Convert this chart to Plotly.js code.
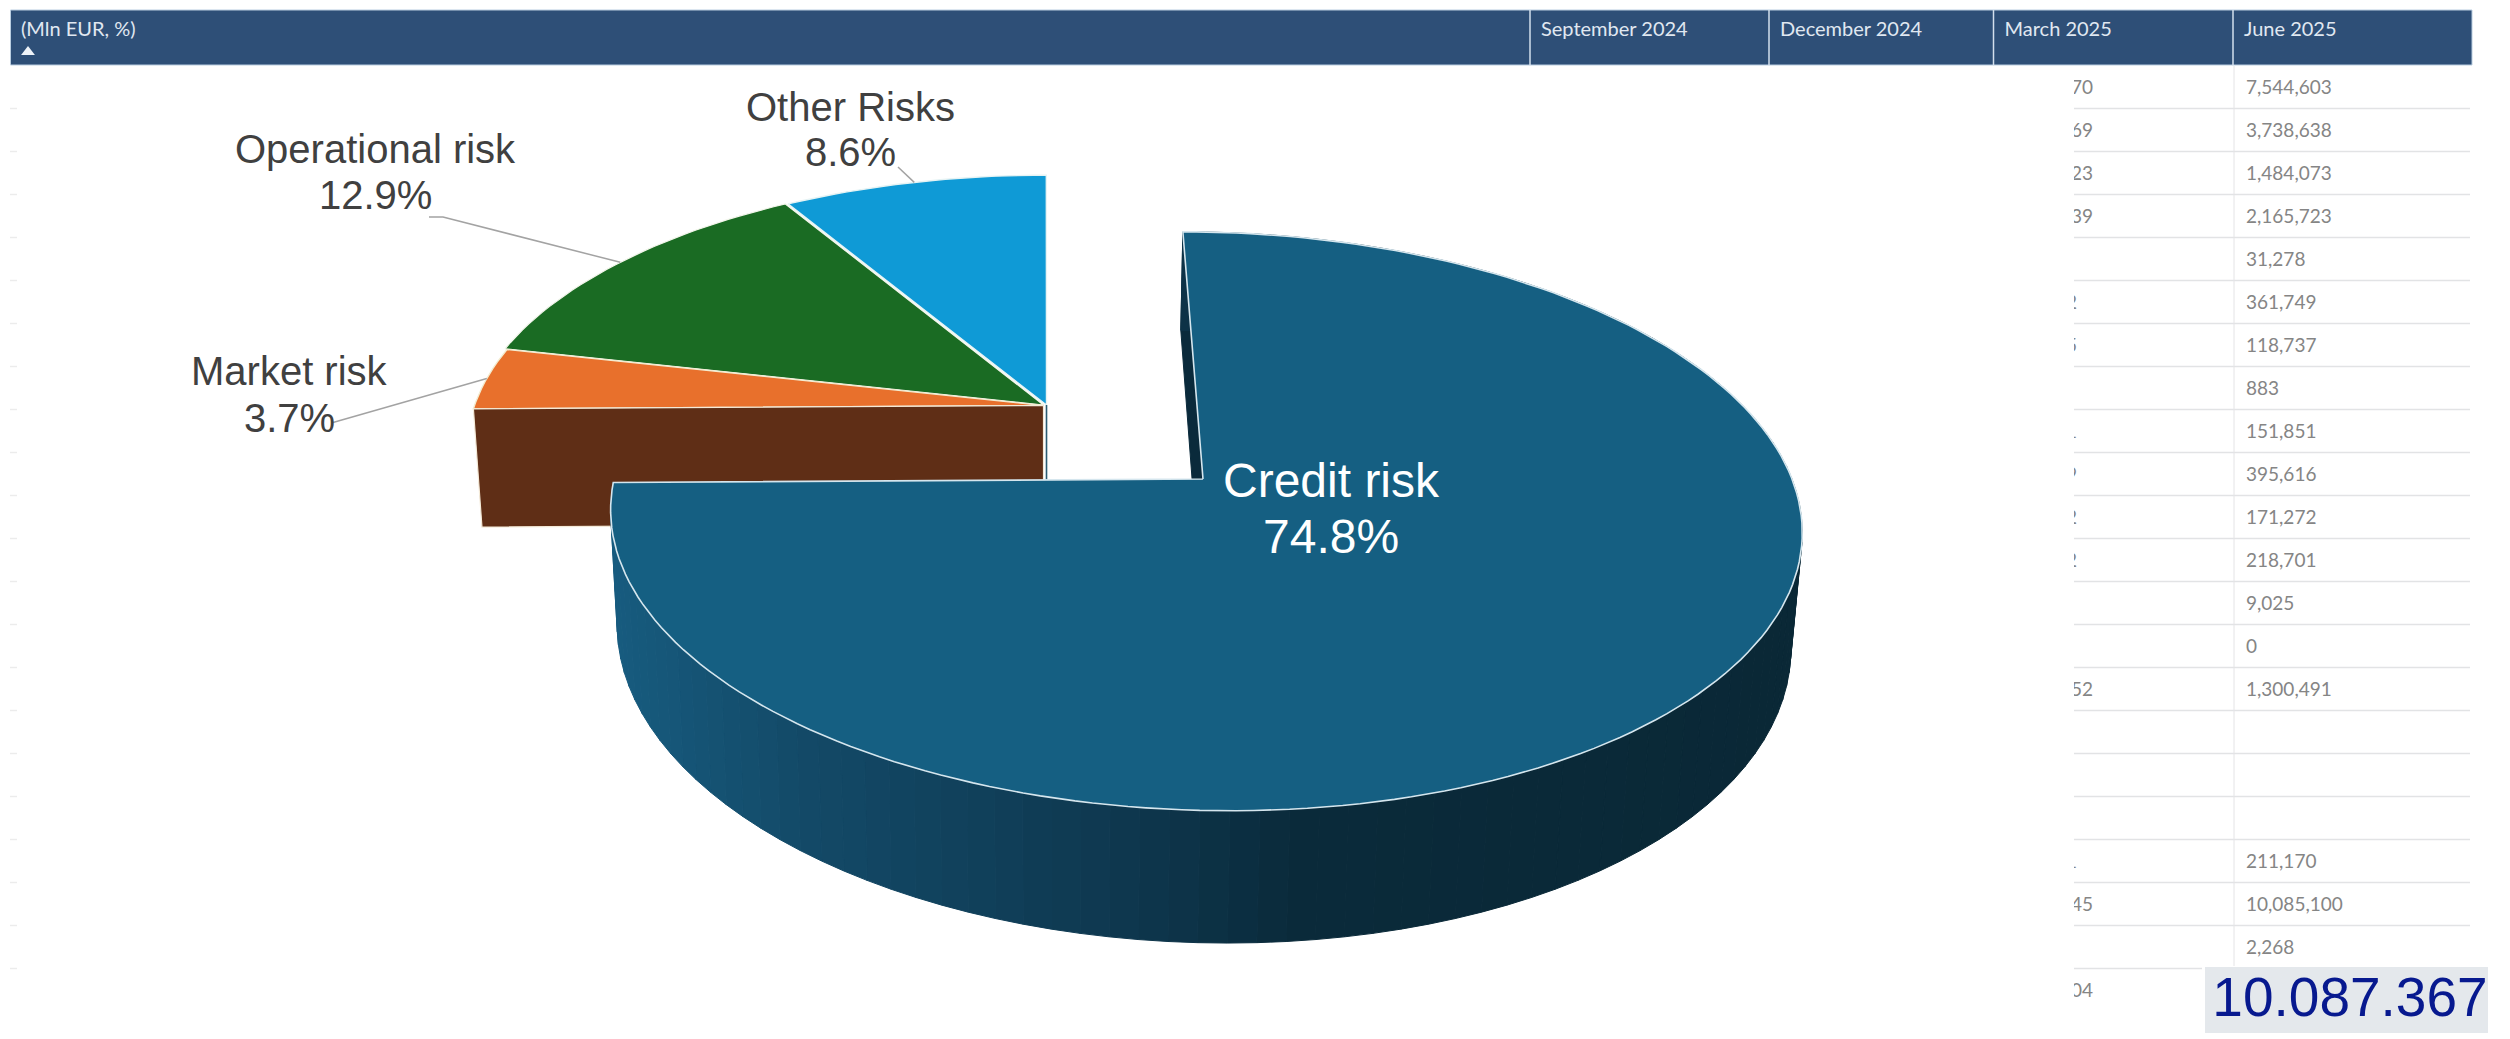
<!DOCTYPE html>
<html>
<head>
<meta charset="utf-8">
<script src="https://cdn.plot.ly/plotly-3.0.1.min.js"></script>
<style>html,body{margin:0;padding:0;background:#fff}#chart{width:2510px;height:1039px}</style>
</head>
<body>
<div id="chart"></div>
<script>
// Risk breakdown, in percent of the total, clockwise from 12 o'clock
const categories = ['Credit risk', 'Market risk', 'Operational risk', 'Other Risks'];
const shares = [74.8, 3.7, 12.9, 8.6];

// Table behind the pie
const unitLabel = '(Mln EUR, %)';
const months = ['September 2024', 'December 2024', 'March 2025', 'June 2025'];
const june2025 = ['7,544,603', '3,738,638', '1,484,073', '2,165,723', '31,278', '361,749', '118,737', '883',
  '151,851', '395,616', '171,272', '218,701', '9,025', '0', '1,300,491', '', '', '', '211,170', '10,085,100', '2,268', ''];
const march2025Tail = ['70', '69', '23', '39', '', '2', '5', '', '1', '9', '2', '2', '', '', '52', '', '', '', '1', '45', '', '04'];
const totalLabel = '10.087.367';

// Styling
const sliceColors = ['#155f82', '#e8702c', '#1a6b23', '#0f9ad6'];
const marketCutColor = '#5f2e16';
const wallStops = [[610, [23, 92, 128]], [800, [19, 74, 104]], [1130, [14, 55, 78]], [1300, [10, 42, 58]], [1800, [10, 40, 54]]];
const labelFont = 'Liberation Sans, Arial, sans-serif';
const tableFont = 'Lato, Open Sans, sans-serif';

// Camera poses for the tilted disc: pivot, radius, tilt, foreshortening, extrusion
const backPose = {vx: 1045, ax: 0, cy: 405, R: 571, a: 0.467, q: 0.16, D: 118};
const poses = [
  {vx: 1045, ax: 158, cy: 479, R: 589, a: 0.481, q: 0.146, D: 113},
  {...backPose, ax: -1.5, cy: 405.5, R: 569},
  {...backPose, ax: -1.5},
  {...backPose, ax: 1.5}
];

function project(p, deg, r, z) {
  const t = deg * Math.PI / 180, c = Math.cos(t), s = Math.sin(t);
  const k = 1 / (1 + p.q * r * c), g = 1 - 0.015 * z;
  return [p.vx + (p.ax + p.R * r * s) * k * g, p.cy - p.a * p.R * r * c * k + z * p.D * k];
}

function polygon(points, fill, lineColor, lineWidth) {
  const xs = points.map(q => q[0]), ys = points.map(q => q[1]);
  xs.push(xs[0]); ys.push(ys[0]);
  return {x: xs, y: ys, type: 'scatter', mode: 'lines', fill: 'toself', fillcolor: fill,
    line: {color: lineColor || fill, width: lineWidth === undefined ? 1 : lineWidth}, hoverinfo: 'skip', showlegend: false};
}
function polyline(points, color, width) {
  return {x: points.map(q => q && q[0]), y: points.map(q => q && q[1]), type: 'scatter', mode: 'lines',
    line: {color: color, width: width}, connectgaps: false, hoverinfo: 'skip', showlegend: false};
}
function textColumn(x, ys, texts, position, color, size, family) {
  return {x: ys.map(() => x), y: ys, text: texts, type: 'scatter', mode: 'text', textposition: position,
    textfont: {color: color, size: size, family: family}, cliponaxis: false, hoverinfo: 'skip', showlegend: false};
}
function wallColor(x) {
  let i = 0;
  while (i < wallStops.length - 2 && x > wallStops[i + 1][0]) i++;
  const [x0, c0] = wallStops[i], [x1, c1] = wallStops[i + 1];
  const f = Math.min(1, Math.max(0, (x - x0) / (x1 - x0)));
  return 'rgb(' + c0.map((v, j) => Math.round(v + (c1[j] - v) * f)).join(',') + ')';
}

// Slice extents in degrees, taken from the shares
const spans = [];
let running = 0;
shares.forEach(v => { const from = running * 3.6; running += v; spans.push([from, running * 3.6]); });
function rim(p, from, to, z) {
  const pts = [], n = Math.max(2, Math.ceil((to - from) / 1.5));
  for (let i = 0; i <= n; i++) pts.push(project(p, from + (to - from) * i / n, 1, z));
  return pts;
}
function wedge(i) {
  const p = poses[i];
  return [project(p, 0, 0, 0)].concat(rim(p, spans[i][0], spans[i][1], 0));
}

const traces = [];

// Table header band
const header = {x0: 10.5, x1: 2472, y0: 10, y1: 65};
traces.push(polygon([[header.x0, header.y0], [header.x1, header.y0], [header.x1, header.y1], [header.x0, header.y1]], '#2e4f77', '#b9cde0', 1));
const columnEdges = [1530, 1769, 1993.5, 2233];
columnEdges.forEach(x => traces.push(polyline([[x, header.y0], [x, header.y1]], '#d3dfec', 1.5)));
traces.push(textColumn(21, [31], [unitLabel], 'middle right', '#e0e8f1', 20, tableFont));
traces.push({x: [28], y: [52], type: 'scatter', mode: 'markers', cliponaxis: false,
  marker: {symbol: 'triangle-up', size: 12, color: '#eef3f8'}, hoverinfo: 'skip', showlegend: false});
months.forEach((m, i) => traces.push(textColumn(columnEdges[i] + 11, [31], [m], 'middle right', '#e0e8f1', 20, tableFont)));

// Table rows
const rowY = june2025.map((_, i) => 89 + i * 43.0);
const ruleY = june2025.slice(0, -1).map((_, i) => 108.5 + i * 43.0);
const rules = [], leftTicks = [];
ruleY.forEach((y, i) => {
  rules.push([2074, y], [i === ruleY.length - 1 ? 2202 : 2470, y], null);
  leftTicks.push([10, y], [17, y], null);
});
traces.push(polyline(rules, '#e2e3e5', 1.6));
traces.push(polyline(leftTicks, '#ececec', 1.5));
traces.push(polyline([[2234, 66], [2234, 966]], '#e4e4e6', 1));
traces.push(textColumn(2246, rowY, june2025, 'middle right', '#858585', 19, tableFont));
const tailEnd = march2025Tail.map(t => t.length > 1 ? 2093 : 2077);
traces.push({x: tailEnd, y: rowY, text: march2025Tail, type: 'scatter', mode: 'text', textposition: 'middle left',
  textfont: {color: '#858585', size: 19, family: tableFont}, cliponaxis: false, hoverinfo: 'skip', showlegend: false});
// Blank panel that hides the left part of the March column
traces.push(polygon([[1995, 66], [2074, 66], [2074, 1036], [1995, 1036]], '#ffffff', '#ffffff', 0));

// Total box
traces.push(polygon([[2205, 967], [2488, 967], [2488, 1033], [2205, 1033]], '#e4e8ec', '#e4e8ec', 0));
traces.push(textColumn(2350, [1002], [totalLabel], 'middle center', '#07198f', 55, labelFont));

// Rear slices and the cut face of Market risk
traces.push(polygon(wedge(3), sliceColors[3], '#e6f3f4', 1.4));
traces.push(polygon(wedge(2), sliceColors[2], '#f2f5ea', 1.2));
traces.push(polygon(wedge(1), sliceColors[1], '#f3ecd0', 1.4));
const mp = poses[1], cutAngle = spans[1][0];
traces.push(polygon([project(mp, 0, 0, 0), project(mp, cutAngle, 1, 0), project(mp, cutAngle, 1, 1), project(mp, 0, 0, 1)],
  marketCutColor, '#f4ead8', 1.2));
const op = poses[3];
traces.push(polyline([project(op, 0, 0, 0), project(op, 0, 0, 1)], '#2b5c72', 1.6));

// Credit risk: cut face, outer wall, then top face
const cp = poses[0];
traces.push(polygon([project(cp, 0, 0, 0), project(cp, 0, 1, 0), project(cp, 0, 1, 1), project(cp, 0, 0, 1)], '#0a2a3b'));
const wallStep = 2.5;
for (let a = spans[0][0]; a < spans[0][1]; a += wallStep) {
  const b = Math.min(a + wallStep, spans[0][1]);
  const mid = project(cp, (a + b) / 2, 1, 1)[0];
  traces.push(polygon([project(cp, a, 1, 0), project(cp, b, 1, 0), project(cp, b, 1, 1), project(cp, a, 1, 1)], wallColor(mid)));
}
traces.push(polygon(wedge(0), sliceColors[0], '#d5e6ee', 1.6));

// Leader lines from each outer label to its slice rim
const labelLayout = [
  {x: 1331, y: [480, 536], size: 48, color: '#ffffff'},
  {x: 289, y: [371, 418], size: 40, color: '#404040', leader: [[333, 422.5]]},
  {x: 375, y: [149, 195], size: 40, color: '#404040', leader: [[429, 217], [443, 217]]},
  {x: 850, y: [107, 152], size: 40, color: '#404040', leader: [[898, 167]]}
];
labelLayout.forEach((l, i) => {
  if (!l.leader) return;
  const midAngle = (spans[i][0] + spans[i][1]) / 2;
  traces.push(polyline(l.leader.concat([project(poses[i], midAngle, 1, 0)]), '#a3a3a3', 1.5));
});

// Category and percentage labels
const annotations = [];
categories.forEach((name, i) => {
  const l = labelLayout[i];
  [name, shares[i].toFixed(1) + '%'].forEach((text, j) => annotations.push({
    x: l.x, y: l.y[j], xref: 'x', yref: 'y', text: text, showarrow: false, xanchor: 'center', yanchor: 'middle',
    font: {family: labelFont, size: l.size, color: l.color}
  }));
});

const layout = {
  width: 2510, height: 1039, margin: {l: 0, r: 0, t: 0, b: 0},
  paper_bgcolor: '#ffffff', plot_bgcolor: '#ffffff', showlegend: false,
  xaxis: {range: [0, 2510], visible: false, fixedrange: true},
  yaxis: {range: [1039, 0], visible: false, fixedrange: true},
  annotations: annotations
};
Plotly.newPlot('chart', traces, layout, {displayModeBar: false, staticPlot: true});
</script>
</body>
</html>
